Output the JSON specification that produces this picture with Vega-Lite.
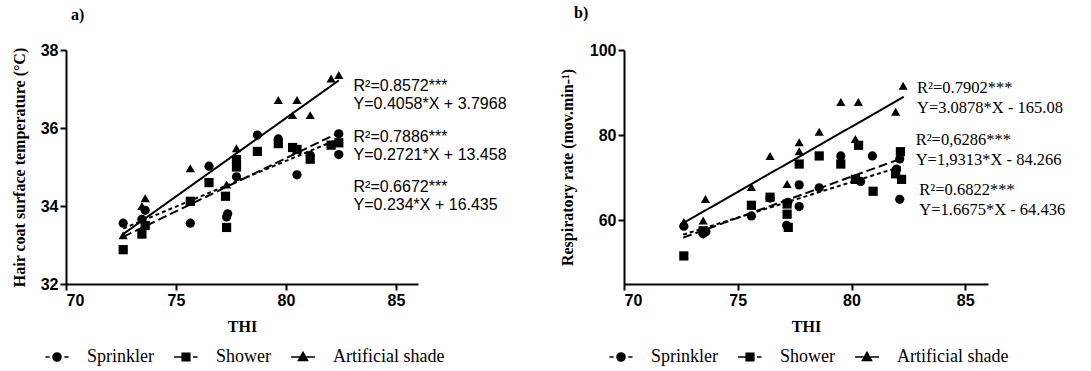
{
  "$schema": "https://vega.github.io/schema/vega-lite/v6.json",
  "background": "white",
  "padding": {"left": 11, "top": 5, "right": 2, "bottom": 2},
  "config": {
    "view": {"stroke": null},
    "axis": {"grid": false, "domainColor": "black", "domainWidth": 2, "tickColor": "black", "tickWidth": 2, "tickSize": 6, "labelFont": "Liberation Sans", "labelFontWeight": "bold", "labelFontSize": 16, "labelColor": "black", "labelPadding": 2, "titleFont": "Liberation Serif", "titleFontWeight": "bold", "titleFontSize": 16, "titleColor": "black"},
    "axisX": {"titlePadding": 10},
    "axisY": {"titlePadding": 13},
    "legend": {"orient": "bottom", "direction": "horizontal", "labelFont": "Liberation Serif", "labelFontSize": 18, "labelColor": "black", "symbolSize": 49, "symbolOffset": 8, "labelOffset": 21, "columnPadding": 15, "offset": 14, "layout": {"bottom": {"anchor": "middle"}}},
    "title": {"font": "Liberation Serif", "fontSize": 16, "fontWeight": "bold", "anchor": "start", "frame": "group", "color": "black"}
  },
  "datasets": {
    "hair": [
      {"Treatment": "Sprinkler", "THI": 72.6, "Value": 33.56},
      {"Treatment": "Sprinkler", "THI": 73.45, "Value": 33.66},
      {"Treatment": "Sprinkler", "THI": 73.6, "Value": 33.89},
      {"Treatment": "Sprinkler", "THI": 75.65, "Value": 33.56},
      {"Treatment": "Sprinkler", "THI": 76.5, "Value": 35.02},
      {"Treatment": "Sprinkler", "THI": 77.3, "Value": 33.72},
      {"Treatment": "Sprinkler", "THI": 77.35, "Value": 33.8},
      {"Treatment": "Sprinkler", "THI": 77.75, "Value": 34.75},
      {"Treatment": "Sprinkler", "THI": 78.7, "Value": 35.82},
      {"Treatment": "Sprinkler", "THI": 79.65, "Value": 35.72},
      {"Treatment": "Sprinkler", "THI": 80.5, "Value": 34.8},
      {"Treatment": "Sprinkler", "THI": 81.1, "Value": 35.3},
      {"Treatment": "Sprinkler", "THI": 82.4, "Value": 35.85},
      {"Treatment": "Sprinkler", "THI": 82.4, "Value": 35.32},
      {"Treatment": "Shower", "THI": 72.6, "Value": 32.88},
      {"Treatment": "Shower", "THI": 73.45, "Value": 33.28},
      {"Treatment": "Shower", "THI": 73.6, "Value": 33.5},
      {"Treatment": "Shower", "THI": 75.65, "Value": 34.12},
      {"Treatment": "Shower", "THI": 76.5, "Value": 34.6},
      {"Treatment": "Shower", "THI": 77.25, "Value": 34.25},
      {"Treatment": "Shower", "THI": 77.3, "Value": 33.45},
      {"Treatment": "Shower", "THI": 77.75, "Value": 35.19},
      {"Treatment": "Shower", "THI": 77.75, "Value": 35.0},
      {"Treatment": "Shower", "THI": 78.7, "Value": 35.4},
      {"Treatment": "Shower", "THI": 79.65, "Value": 35.6},
      {"Treatment": "Shower", "THI": 80.3, "Value": 35.5},
      {"Treatment": "Shower", "THI": 80.5, "Value": 35.45},
      {"Treatment": "Shower", "THI": 81.1, "Value": 35.2},
      {"Treatment": "Shower", "THI": 82.05, "Value": 35.56},
      {"Treatment": "Shower", "THI": 82.4, "Value": 35.62},
      {"Treatment": "Artificial shade", "THI": 72.6, "Value": 33.25},
      {"Treatment": "Artificial shade", "THI": 73.45, "Value": 34.0},
      {"Treatment": "Artificial shade", "THI": 73.6, "Value": 34.2},
      {"Treatment": "Artificial shade", "THI": 75.65, "Value": 34.97},
      {"Treatment": "Artificial shade", "THI": 77.3, "Value": 34.55},
      {"Treatment": "Artificial shade", "THI": 77.75, "Value": 35.48},
      {"Treatment": "Artificial shade", "THI": 79.65, "Value": 36.72},
      {"Treatment": "Artificial shade", "THI": 80.3, "Value": 36.33},
      {"Treatment": "Artificial shade", "THI": 80.5, "Value": 36.72},
      {"Treatment": "Artificial shade", "THI": 81.1, "Value": 36.33},
      {"Treatment": "Artificial shade", "THI": 82.05, "Value": 37.27},
      {"Treatment": "Artificial shade", "THI": 82.4, "Value": 37.36}
    ],
    "hairFit": [
      {"Treatment": "Sprinkler", "THI": 72.6, "Value": 33.42},
      {"Treatment": "Sprinkler", "THI": 82.4, "Value": 35.72},
      {"Treatment": "Shower", "THI": 72.6, "Value": 33.21},
      {"Treatment": "Shower", "THI": 82.4, "Value": 35.88},
      {"Treatment": "Artificial shade", "THI": 72.6, "Value": 33.28},
      {"Treatment": "Artificial shade", "THI": 82.4, "Value": 37.22}
    ],
    "hairNotes": [
      {"label": ["R²=0.8572***", "Y=0.4058*X + 3.7968"], "THI": 83.07, "Value": 37.08},
      {"label": ["R²=0.7886***", "Y=0.2721*X + 13.458"], "THI": 83.07, "Value": 35.78},
      {"label": ["R²=0.6672***", "Y=0.234*X + 16.435"], "THI": 83.07, "Value": 34.5}
    ],
    "resp": [
      {"Treatment": "Sprinkler", "THI": 72.63, "Value": 58.6},
      {"Treatment": "Sprinkler", "THI": 73.48, "Value": 56.8},
      {"Treatment": "Sprinkler", "THI": 73.6, "Value": 57.3},
      {"Treatment": "Sprinkler", "THI": 75.6, "Value": 61.0},
      {"Treatment": "Sprinkler", "THI": 76.42, "Value": 65.2},
      {"Treatment": "Sprinkler", "THI": 77.15, "Value": 58.8},
      {"Treatment": "Sprinkler", "THI": 77.2, "Value": 64.2},
      {"Treatment": "Sprinkler", "THI": 77.7, "Value": 68.3},
      {"Treatment": "Sprinkler", "THI": 77.7, "Value": 63.2},
      {"Treatment": "Sprinkler", "THI": 78.58, "Value": 67.6},
      {"Treatment": "Sprinkler", "THI": 79.53, "Value": 75.1},
      {"Treatment": "Sprinkler", "THI": 80.4, "Value": 69.1},
      {"Treatment": "Sprinkler", "THI": 80.92, "Value": 75.1},
      {"Treatment": "Sprinkler", "THI": 81.98, "Value": 72.0},
      {"Treatment": "Sprinkler", "THI": 82.12, "Value": 74.4},
      {"Treatment": "Sprinkler", "THI": 82.12, "Value": 64.9},
      {"Treatment": "Shower", "THI": 72.63, "Value": 51.6},
      {"Treatment": "Shower", "THI": 73.48, "Value": 57.5},
      {"Treatment": "Shower", "THI": 75.6, "Value": 63.5},
      {"Treatment": "Shower", "THI": 76.42, "Value": 65.4},
      {"Treatment": "Shower", "THI": 77.17, "Value": 63.8},
      {"Treatment": "Shower", "THI": 77.17, "Value": 61.4},
      {"Treatment": "Shower", "THI": 77.22, "Value": 58.3},
      {"Treatment": "Shower", "THI": 77.7, "Value": 73.2},
      {"Treatment": "Shower", "THI": 78.58, "Value": 75.1},
      {"Treatment": "Shower", "THI": 79.53, "Value": 73.2},
      {"Treatment": "Shower", "THI": 80.17, "Value": 69.6},
      {"Treatment": "Shower", "THI": 80.31, "Value": 77.6},
      {"Treatment": "Shower", "THI": 80.95, "Value": 66.8},
      {"Treatment": "Shower", "THI": 81.94, "Value": 70.9},
      {"Treatment": "Shower", "THI": 82.15, "Value": 76.1},
      {"Treatment": "Shower", "THI": 82.2, "Value": 69.6},
      {"Treatment": "Artificial shade", "THI": 72.63, "Value": 59.6},
      {"Treatment": "Artificial shade", "THI": 73.48, "Value": 59.9},
      {"Treatment": "Artificial shade", "THI": 73.58, "Value": 65.0},
      {"Treatment": "Artificial shade", "THI": 75.6, "Value": 67.8},
      {"Treatment": "Artificial shade", "THI": 76.42, "Value": 75.1},
      {"Treatment": "Artificial shade", "THI": 77.17, "Value": 68.5},
      {"Treatment": "Artificial shade", "THI": 77.7, "Value": 78.3},
      {"Treatment": "Artificial shade", "THI": 77.7, "Value": 76.2},
      {"Treatment": "Artificial shade", "THI": 78.58, "Value": 80.8},
      {"Treatment": "Artificial shade", "THI": 79.53, "Value": 87.8},
      {"Treatment": "Artificial shade", "THI": 80.17, "Value": 79.1},
      {"Treatment": "Artificial shade", "THI": 80.3, "Value": 87.8},
      {"Treatment": "Artificial shade", "THI": 81.94, "Value": 85.5},
      {"Treatment": "Artificial shade", "THI": 82.27, "Value": 91.6}
    ],
    "respFit": [
      {"Treatment": "Sprinkler", "THI": 72.6, "Value": 56.6},
      {"Treatment": "Sprinkler", "THI": 82.3, "Value": 72.8},
      {"Treatment": "Shower", "THI": 72.6, "Value": 55.9},
      {"Treatment": "Shower", "THI": 82.3, "Value": 74.7},
      {"Treatment": "Artificial shade", "THI": 72.6, "Value": 59.3},
      {"Treatment": "Artificial shade", "THI": 82.3, "Value": 89.0}
    ],
    "respNotes": [
      {"label": ["R²=0.7902***", "Y=3.0878*X - 165.08"], "THI": 82.88, "Value": 91.07},
      {"label": ["R²=0,6286***", "Y=1,9313*X - 84.266"], "THI": 82.82, "Value": 78.85},
      {"label": ["R²=0.6822***", "Y=1.6675*X - 64.436"], "THI": 82.98, "Value": 67.1}
    ]
  },
  "hconcat": [
    {
      "title": {"text": "a)", "dx": 5, "offset": 19},
      "width": 352,
      "height": 234,
      "resolve": {"scale": {"shape": "independent"}},
      "layer": [
        {
          "data": {"name": "hairFit"},
          "mark": {"type": "line", "color": "black", "strokeWidth": 2},
          "encoding": {
            "x": {"field": "THI", "type": "quantitative", "scale": {"domain": [70, 85]}, "axis": {"values": [70, 75, 80, 85], "title": "THI"}},
            "y": {"field": "Value", "type": "quantitative", "scale": {"domain": [32, 38]}, "axis": {"values": [32, 34, 36, 38], "title": "Hair coat surface temperature (°C)"}},
            "strokeDash": {"field": "Treatment", "type": "nominal", "scale": {"domain": ["Sprinkler", "Shower", "Artificial shade"], "range": [[4, 3], [9, 4], [1, 0]]}, "legend": null}
          }
        },
        {
          "data": {"name": "hair"},
          "mark": {"type": "point", "filled": true, "color": "black", "size": 85, "opacity": 1},
          "encoding": {
            "x": {"field": "THI", "type": "quantitative"},
            "y": {"field": "Value", "type": "quantitative"},
            "shape": {"field": "Treatment", "type": "nominal", "scale": {"domain": ["Sprinkler", "Shower", "Artificial shade"], "range": ["circle", "square", "triangle-up"]}, "legend": null}
          }
        },
        {
          "data": {"name": "hair"},
          "transform": [{"filter": "false"}],
          "mark": {"type": "point", "filled": true, "fill": "black", "stroke": "black", "strokeWidth": 1.6, "opacity": 1},
          "encoding": {
            "x": {"field": "THI", "type": "quantitative"},
            "y": {"field": "Value", "type": "quantitative"},
            "shape": {"field": "Treatment", "type": "nominal", "scale": {"domain": ["Sprinkler", "Shower", "Artificial shade"], "range": ["M-3.3,0H-2.1M2.1,0H3.3M-1.15,0A1.15,1.15,0,1,0,1.15,0A1.15,1.15,0,1,0,-1.15,0Z", "M-3.4,0H-1.2M2,0H3.3M-1.1,-1.1H1.1V1.1H-1.1Z", "M-3.4,0H3.4M0,-1.35L1.3,1L-1.3,1Z"]}, "legend": {"title": null}}
          }
        },
        {
          "data": {"name": "hairNotes"},
          "mark": {"type": "text", "align": "left", "baseline": "middle", "font": "Liberation Sans", "fontSize": 16, "lineHeight": 18, "color": "black"},
          "encoding": {
            "x": {"field": "THI", "type": "quantitative"},
            "y": {"field": "Value", "type": "quantitative"},
            "text": {"field": "label"}
          }
        }
      ]
    },
    {
      "title": {"text": "b)", "dx": -50, "offset": 21},
      "width": 364,
      "height": 234,
      "resolve": {"scale": {"shape": "independent"}},
      "layer": [
        {
          "data": {"name": "respFit"},
          "mark": {"type": "line", "color": "black", "strokeWidth": 2},
          "encoding": {
            "x": {"field": "THI", "type": "quantitative", "scale": {"domain": [70, 85]}, "axis": {"values": [70, 75, 80, 85], "title": "THI"}},
            "y": {"field": "Value", "type": "quantitative", "scale": {"domain": [45, 100]}, "axis": {"values": [60, 80, 100], "title": "Respiratory rate (mov.min-¹)", "titlePadding": 14}},
            "strokeDash": {"field": "Treatment", "type": "nominal", "scale": {"domain": ["Sprinkler", "Shower", "Artificial shade"], "range": [[4, 3], [9, 4], [1, 0]]}, "legend": null}
          }
        },
        {
          "data": {"name": "resp"},
          "mark": {"type": "point", "filled": true, "color": "black", "size": 85, "opacity": 1},
          "encoding": {
            "x": {"field": "THI", "type": "quantitative"},
            "y": {"field": "Value", "type": "quantitative"},
            "shape": {"field": "Treatment", "type": "nominal", "scale": {"domain": ["Sprinkler", "Shower", "Artificial shade"], "range": ["circle", "square", "triangle-up"]}, "legend": null}
          }
        },
        {
          "data": {"name": "resp"},
          "transform": [{"filter": "false"}],
          "mark": {"type": "point", "filled": true, "fill": "black", "stroke": "black", "strokeWidth": 1.6, "opacity": 1},
          "encoding": {
            "x": {"field": "THI", "type": "quantitative"},
            "y": {"field": "Value", "type": "quantitative"},
            "shape": {"field": "Treatment", "type": "nominal", "scale": {"domain": ["Sprinkler", "Shower", "Artificial shade"], "range": ["M-3.3,0H-2.1M2.1,0H3.3M-1.15,0A1.15,1.15,0,1,0,1.15,0A1.15,1.15,0,1,0,-1.15,0Z", "M-3.4,0H-1.2M2,0H3.3M-1.1,-1.1H1.1V1.1H-1.1Z", "M-3.4,0H3.4M0,-1.35L1.3,1L-1.3,1Z"]}, "legend": {"title": null}}
          }
        },
        {
          "data": {"name": "respNotes"},
          "mark": {"type": "text", "align": "left", "baseline": "middle", "font": "Liberation Serif", "fontSize": 16.5, "lineHeight": 20, "color": "black"},
          "encoding": {
            "x": {"field": "THI", "type": "quantitative"},
            "y": {"field": "Value", "type": "quantitative"},
            "text": {"field": "label"}
          }
        }
      ]
    }
  ],
  "spacing": 52,
  "resolve": {"scale": {"shape": "independent", "strokeDash": "independent"}, "legend": {"shape": "independent"}}
}
